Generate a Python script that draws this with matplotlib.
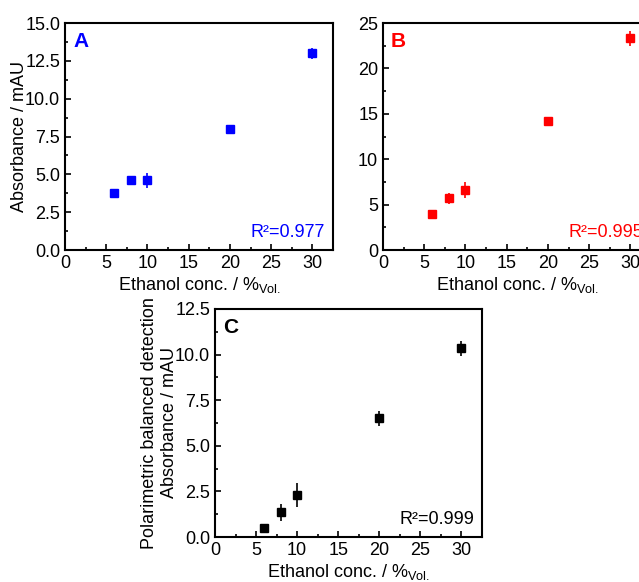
import matplotlib
matplotlib.use("Agg")
import matplotlib.pyplot as plt
from matplotlib.ticker import MultipleLocator

plt.rcParams["font.family"] = ["Liberation Sans", "DejaVu Sans"]
plt.rcParams["mathtext.default"] = "regular"

conc = [6, 8, 10, 20, 30]

abs_a = [3.8, 4.65, 4.6, 8.0, 13.0]
err_a = [0.2, 0.15, 0.5, 0.15, 0.35]

abs_b = [4.0, 5.7, 6.6, 14.2, 23.3]
err_b = [0.3, 0.6, 0.9, 0.45, 0.8]

abs_c = [0.5, 1.35, 2.3, 6.5, 10.35]
err_c = [0.15, 0.45, 0.65, 0.4, 0.4]

xlabel = r"Ethanol conc. / %$_{Vol.}$"

fig = plt.figure(figsize=(6.39, 5.82), dpi=100)


def style_axes(ax, ymax, ymajor, letter, color, r2):
    ax.set_xlim(0, 32.5)
    ax.set_ylim(0, ymax)
    ax.xaxis.set_major_locator(MultipleLocator(5))
    ax.xaxis.set_minor_locator(MultipleLocator(2.5))
    ax.yaxis.set_major_locator(MultipleLocator(ymajor))
    ax.yaxis.set_minor_locator(MultipleLocator(ymajor / 2))
    ax.tick_params(which="both", direction="in", top=False, right=False,
                   labelsize=13, width=1.2)
    ax.tick_params(which="major", length=4)
    ax.tick_params(which="minor", length=2.5)
    for s in ax.spines.values():
        s.set_linewidth(1.5)
    ax.set_xlabel(xlabel, fontsize=13, labelpad=2)
    ax.text(0.03, 0.96, letter, transform=ax.transAxes, color=color,
            fontsize=15, fontweight="bold", va="top", ha="left")
    ax.text(0.97, 0.04, r2, transform=ax.transAxes, color=color,
            fontsize=13, va="bottom", ha="right")


ax_a = fig.add_axes([0.1017, 0.5704, 0.4194, 0.390])
ax_a.errorbar(conc, abs_a, yerr=err_a, fmt="s", color="#0000ff",
              markersize=6, capsize=0, elinewidth=1.2)
style_axes(ax_a, 15, 2.5, "A", "#0000ff", "R²=0.977")
ax_a.yaxis.set_major_formatter(plt.FormatStrFormatter("%.1f"))
ax_a.set_ylabel("Absorbance / mAU", fontsize=13, labelpad=-2)

ax_b = fig.add_axes([0.5994, 0.5704, 0.4194, 0.390])
ax_b.errorbar(conc, abs_b, yerr=err_b, fmt="s", color="#ff0000",
              markersize=6, capsize=0, elinewidth=1.2)
style_axes(ax_b, 25, 5, "B", "#ff0000", "R²=0.995")

ax_c = fig.add_axes([0.3365, 0.0773, 0.4178, 0.3918])
ax_c.errorbar(conc, abs_c, yerr=err_c, fmt="s", color="black",
              markersize=6, capsize=0, elinewidth=1.2)
style_axes(ax_c, 12.5, 2.5, "C", "black", "R²=0.999")
ax_c.yaxis.set_major_formatter(plt.FormatStrFormatter("%.1f"))
ax_c.set_ylabel("Polarimetric balanced detection\nAbsorbance / mAU",
                fontsize=13, labelpad=-2)

fig.savefig("out.png", dpi=100)
